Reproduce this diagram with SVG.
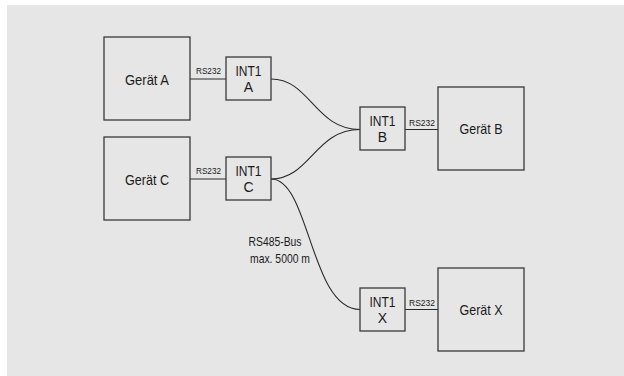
<svg xmlns="http://www.w3.org/2000/svg" width="624" height="376" viewBox="0 0 624 376">
<style>
.box{fill:none;stroke:#3a3a3a;stroke-width:1.3}
.wire{fill:none;stroke:#2a2a2a;stroke-width:1.1}
text{font-family:"Liberation Sans",Arial,sans-serif;fill:#1a1a1a;text-anchor:middle}
.dev{font-size:15px}
.int{font-size:14px}
.rs{font-size:9.5px}
.bus{font-size:13px}
</style>
<rect x="0" y="0" width="624" height="376" fill="#ffffff"/>
<rect x="7" y="5" width="617" height="371" fill="#e6e6e6"/>
<g id="connectors">
<line class="wire" x1="190" y1="79" x2="226" y2="79"/>
<line class="wire" x1="190" y1="179" x2="226" y2="179"/>
<line class="wire" x1="405" y1="129.5" x2="438" y2="129.5"/>
<line class="wire" x1="405" y1="309.5" x2="438" y2="309.5"/>
<path class="wire" d="M271,79 C310,79 315,129.5 360,129.5"/>
<path class="wire" d="M271,179 C310,179 315,129.5 360,129.5"/>
<path class="wire" d="M271,179 C310,179 310,309.5 360,309.5"/>
<text class="rs" x="208.5" y="74" textLength="25" lengthAdjust="spacingAndGlyphs">RS232</text>
<text class="rs" x="208.5" y="174.3" textLength="25" lengthAdjust="spacingAndGlyphs">RS232</text>
<text class="rs" x="422" y="125.7" textLength="26" lengthAdjust="spacingAndGlyphs">RS232</text>
<text class="rs" x="422" y="306" textLength="26" lengthAdjust="spacingAndGlyphs">RS232</text>
<text class="bus" x="275" y="246" textLength="53" lengthAdjust="spacingAndGlyphs">RS485-Bus</text>
<text class="bus" x="280" y="262.7" textLength="60" lengthAdjust="spacingAndGlyphs">max. 5000 m</text>
</g>
<g id="geraet-a">
<rect class="box" x="104" y="37" width="86" height="83"/>
<text class="dev" x="147" y="85" textLength="44" lengthAdjust="spacingAndGlyphs">Gerät A</text>
</g>
<g id="geraet-c">
<rect class="box" x="104" y="137" width="86" height="83"/>
<text class="dev" x="147" y="185" textLength="44" lengthAdjust="spacingAndGlyphs">Gerät C</text>
</g>
<g id="geraet-b">
<rect class="box" x="438" y="87" width="86" height="83"/>
<text class="dev" x="481" y="134" textLength="43" lengthAdjust="spacingAndGlyphs">Gerät B</text>
</g>
<g id="geraet-x">
<rect class="box" x="438" y="268" width="86" height="83"/>
<text class="dev" x="481" y="315" textLength="43" lengthAdjust="spacingAndGlyphs">Gerät X</text>
</g>
<g id="int1-a">
<rect class="box" x="226" y="57" width="45" height="43"/>
<text class="int" x="248.5" y="76" textLength="26" lengthAdjust="spacingAndGlyphs">INT1</text>
<text class="int" x="248.5" y="92">A</text>
</g>
<g id="int1-c">
<rect class="box" x="226" y="157" width="45" height="43"/>
<text class="int" x="248.5" y="176" textLength="26" lengthAdjust="spacingAndGlyphs">INT1</text>
<text class="int" x="248.5" y="192">C</text>
</g>
<g id="int1-b">
<rect class="box" x="360" y="107" width="45" height="43"/>
<text class="int" x="382.5" y="126" textLength="26" lengthAdjust="spacingAndGlyphs">INT1</text>
<text class="int" x="382.5" y="142">B</text>
</g>
<g id="int1-x">
<rect class="box" x="360" y="288" width="45" height="43"/>
<text class="int" x="382.5" y="307" textLength="26" lengthAdjust="spacingAndGlyphs">INT1</text>
<text class="int" x="382.5" y="323">X</text>
</g>
</svg>
